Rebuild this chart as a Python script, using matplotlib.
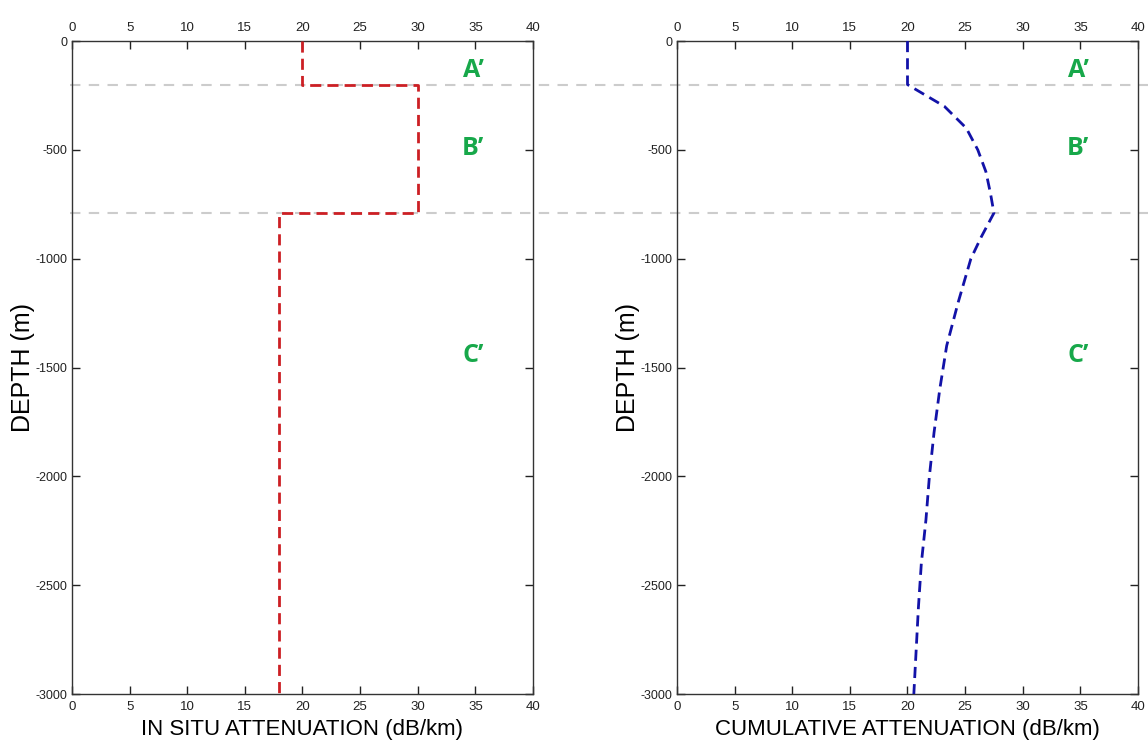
import numpy as np
import matplotlib.pyplot as plt
from matplotlib.lines import Line2D
from matplotlib.transforms import blended_transform_factory

plt.rcParams['axes.unicode_minus'] = False

# in situ attenuation per layer (step profile)
insitu_depth = [0, -200, -200, -790, -790, -3000]
insitu_att = [20, 20, 30, 30, 18, 18]

# cumulative attenuation read along the profile
cum_depth = [0, -200, -250, -300, -400, -500, -600, -700, -790, -900, -1000,
             -1200, -1400, -1600, -1800, -2000, -2200, -2400, -2600, -2800, -3000]
cum_att = [20, 20, 21.6, 23.2, 25.1, 26.1, 26.8, 27.2, 27.5, 26.4, 25.5,
           24.4, 23.4, 22.8, 22.3, 21.9, 21.6, 21.2, 20.95, 20.75, 20.55]

layer_tops = [-200, -790]
layer_names = ["A\u2019", "B\u2019", "C\u2019"]
layer_label_y = [-135, -495, -1445]

tick_font = ['Liberation Sans', 'DejaVu Sans']
lab_font = ['Liberation Sans', 'DejaVu Sans']

fig = plt.figure(figsize=(11.48, 7.49), dpi=100)
ax1 = fig.add_axes([0.0627, 0.0734, 0.4016, 0.8718])
ax2 = fig.add_axes([0.5897, 0.0734, 0.4016, 0.8718])

ax1.plot(insitu_att, insitu_depth, color='#cc1f24', ls=(0, (4, 2.2)), lw=2, zorder=3)
ax2.plot(cum_att, cum_depth, color='#1212a8', ls=(0, (4, 2.2)), lw=2, zorder=3)

for ax, xlab in [(ax1, 'IN SITU ATTENUATION (dB/km)'), (ax2, 'CUMULATIVE ATTENUATION (dB/km)')]:
    ax.set_facecolor('none')
    ax.set_xlim(0, 40)
    ax.set_ylim(-3000, 0)
    ax.set_xticks(np.arange(0, 41, 5))
    ax.set_yticks(np.arange(-3000, 1, 500))
    ax.tick_params(direction='in', length=6, width=1, top=True, right=True,
                   labeltop=True, labelsize=9.5, pad=5, colors='#222222')
    ax.tick_params(axis='y', pad=3, labelsize=9)
    for lbl in ax.get_xticklabels() + ax.get_yticklabels():
        lbl.set_family(tick_font)
    for s in ax.spines.values():
        s.set_color('#333333')
        s.set_linewidth(1)
    ax.set_xlabel(xlab, family=lab_font, fontsize=16, labelpad=4)
    ax.set_ylabel('DEPTH (m)', family=lab_font, fontsize=18)
    ax.yaxis.set_label_coords(-0.08, 0.5)
    for name, y in zip(layer_names, layer_label_y):
        ax.text(34.8, y, name, color='#17a84a', fontsize=18, fontweight='bold',
                family=['Open Sans', 'DejaVu Sans'], ha='center', va='center')

# layer boundaries run across both panels, underneath the curves
tr = blended_transform_factory(fig.transFigure, ax1.transData)
for y in layer_tops:
    fig.add_artist(Line2D([0.061, 1.0], [y, y], transform=tr, color='#cccccc',
                          lw=1.5, ls=(0, (5, 4)), zorder=-1))

fig.savefig('out.png', dpi=100, facecolor='white')
